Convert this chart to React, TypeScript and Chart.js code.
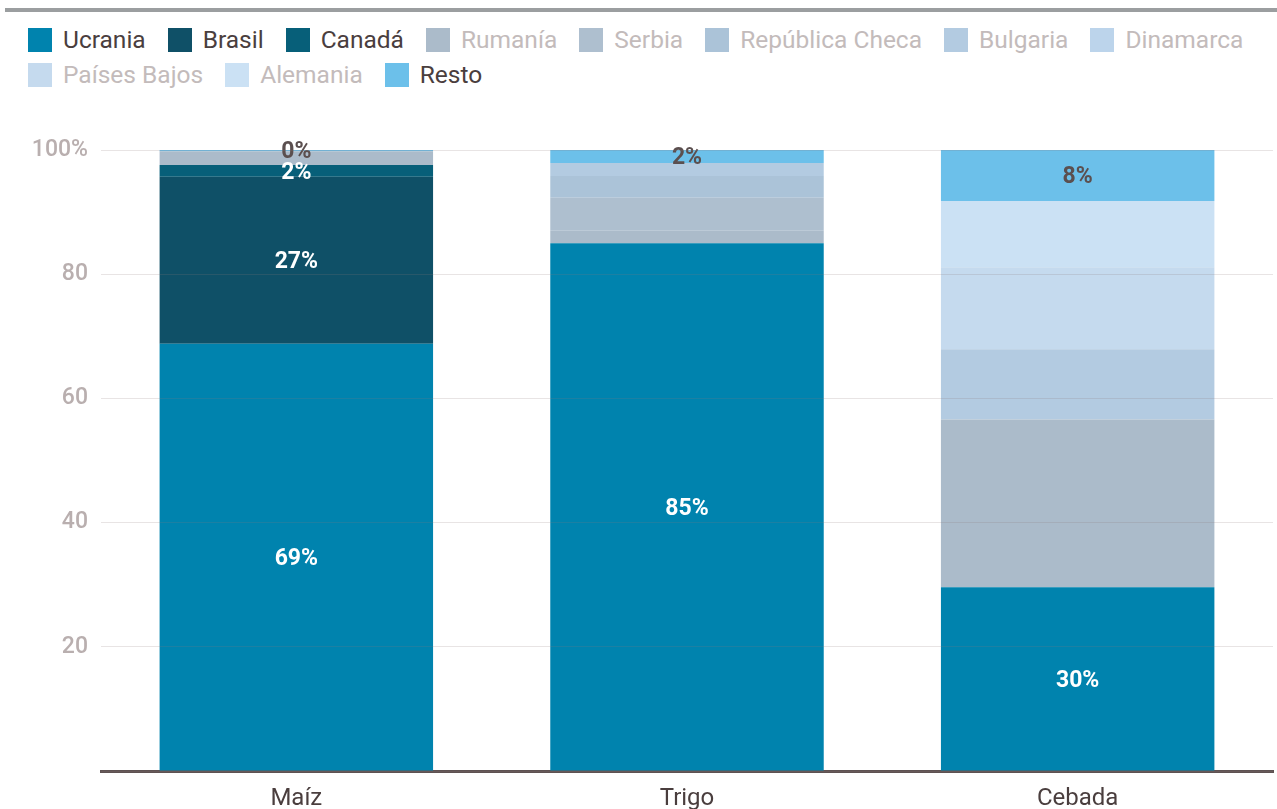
import React, { useEffect, useRef } from "react";
import { Chart, registerables } from "chart.js";
Chart.register(...registerables);

const categories = ["Maíz", "Trigo", "Cebada"];
const ucrania = [68.8, 85.0, 29.6];
const brasil = [26.9, 0, 0];
const canada = [1.9, 0, 0];
const rumania = [2.2, 2.0, 27.0];
const serbia = [0, 5.3, 0];
const republicaCheca = [0, 3.5, 0];
const bulgaria = [0, 2.1, 11.3];
const dinamarca = [0, 0, 0];
const paisesBajos = [0, 0, 13.2];
const alemania = [0, 0, 10.7];
const resto = [0.2, 2.1, 8.2];
const yTicks = [0, 20, 40, 60, 80, 100];

const seriesNames = [
  "Ucrania", "Brasil", "Canadá", "Rumanía", "Serbia", "República Checa",
  "Bulgaria", "Dinamarca", "Países Bajos", "Alemania", "Resto",
];
const seriesValues = [
  ucrania, brasil, canada, rumania, serbia, republicaCheca,
  bulgaria, dinamarca, paisesBajos, alemania, resto,
];
const seriesColors = [
  "#0083ae", "#0f5067", "#075f79", "#abbbca", "#aebfcf", "#abc3d8",
  "#b3cbe1", "#bcd4eb", "#c5daee", "#cbe1f4", "#6cc0ea",
];
const labeled = [true, true, true, false, false, false, false, false, false, false, true];
const labelColors = ["#ffffff", "#ffffff", "#ffffff", "", "", "", "", "", "", "", "#5b4f4f"];

const DARK = "#4a3e3e";
const FADED = "#c3bbbb";

const valueLabels = {
  id: "valueLabels",
  afterDatasetsDraw(chart: any) {
    const ctx = chart.ctx;
    ctx.save();
    ctx.font = "bold 23px Roboto";
    ctx.textAlign = "center";
    ctx.textBaseline = "middle";
    chart.data.datasets.forEach((ds: any, di: number) => {
      if (!labeled[di]) return;
      const meta = chart.getDatasetMeta(di);
      meta.data.forEach((el: any, i: number) => {
        const v = ds.data[i];
        if (!v) return;
        const cy = (el.y + el.base) / 2;
        ctx.fillStyle = labelColors[di];
        ctx.fillText(Math.round(v) + "%", el.x, cy + 2);
      });
    });
    ctx.restore();
  },
};

export default function App() {
  const ref = useRef<HTMLCanvasElement>(null);
  useEffect(() => {
    if (!ref.current) return;
    Chart.defaults.font.family = "Roboto";
    const chart = new Chart(ref.current, {
      type: "bar",
      data: {
        labels: categories,
        datasets: seriesNames.map((n, i) => ({
          label: n,
          data: seriesValues[i],
          backgroundColor: seriesColors[i],
          borderWidth: 0,
          barPercentage: 0.7,
          categoryPercentage: 1.0,
        })),
      },
      options: {
        responsive: true,
        maintainAspectRatio: false,
        animation: false,
        layout: { padding: { top: 150, right: 4, left: 0, bottom: 0 } },
        plugins: { legend: { display: false }, tooltip: { enabled: false } },
        scales: {
          x: {
            stacked: true,
            grid: { display: false, drawTicks: false },
            border: { display: true, color: "#5e5252", width: 3 },
            ticks: { color: DARK, font: { size: 24 }, padding: 14 },
            afterFit: (s: any) => { s.height = 38; },
          },
          y: {
            stacked: true,
            min: 0,
            max: 100,
            afterBuildTicks: (s: any) => { s.ticks = yTicks.map((v) => ({ value: v })); },
            grid: { color: "rgba(140,120,120,0.2)", drawTicks: false, z: 1 },
            border: { display: false },
            ticks: {
              color: "#b9afaf",
              font: { size: 23, weight: "500" as any },
              padding: 13,
              callback: (v: any) => (v === 100 ? "100%" : v === 0 ? "" : String(v)),
            },
            afterFit: (s: any) => { s.width = 101; },
          },
        },
      },
      plugins: [valueLabels],
    });
    return () => chart.destroy();
  }, []);

  const row1 = [0, 1, 2, 3, 4, 5, 6, 7];
  const row2 = [8, 9, 10];
  const item = (i: number) => (
    <div key={i} style={{ display: "flex", alignItems: "center", marginRight: 22, flexShrink: 0, whiteSpace: "nowrap" }}>
      <div style={{ width: 24, height: 24, background: seriesColors[i], marginRight: 11, flexShrink: 0 }} />
      <span style={{ color: labeled[i] ? DARK : FADED, fontSize: 24.5, lineHeight: "24px", whiteSpace: "nowrap" }}>
        {seriesNames[i]}
      </span>
    </div>
  );

  return (
    <div style={{ position: "absolute", top: 0, left: 0, width: 1277, height: 809, background: "#fff", fontFamily: "Roboto", overflow: "hidden" }}>
      <div style={{ position: "absolute", top: 8, left: 5, right: 0, height: 4, background: "#9b9ea0" }} />
      <div style={{ position: "absolute", top: 28, left: 28, width: 1260, display: "flex", flexWrap: "nowrap" }}>{row1.map(item)}</div>
      <div style={{ position: "absolute", top: 63, left: 28, width: 1260, display: "flex", flexWrap: "nowrap" }}>{row2.map(item)}</div>
      <div style={{ position: "absolute", top: 0, left: 0, width: 1277, height: 809 }}>
        <canvas ref={ref} />
      </div>
    </div>
  );
}
